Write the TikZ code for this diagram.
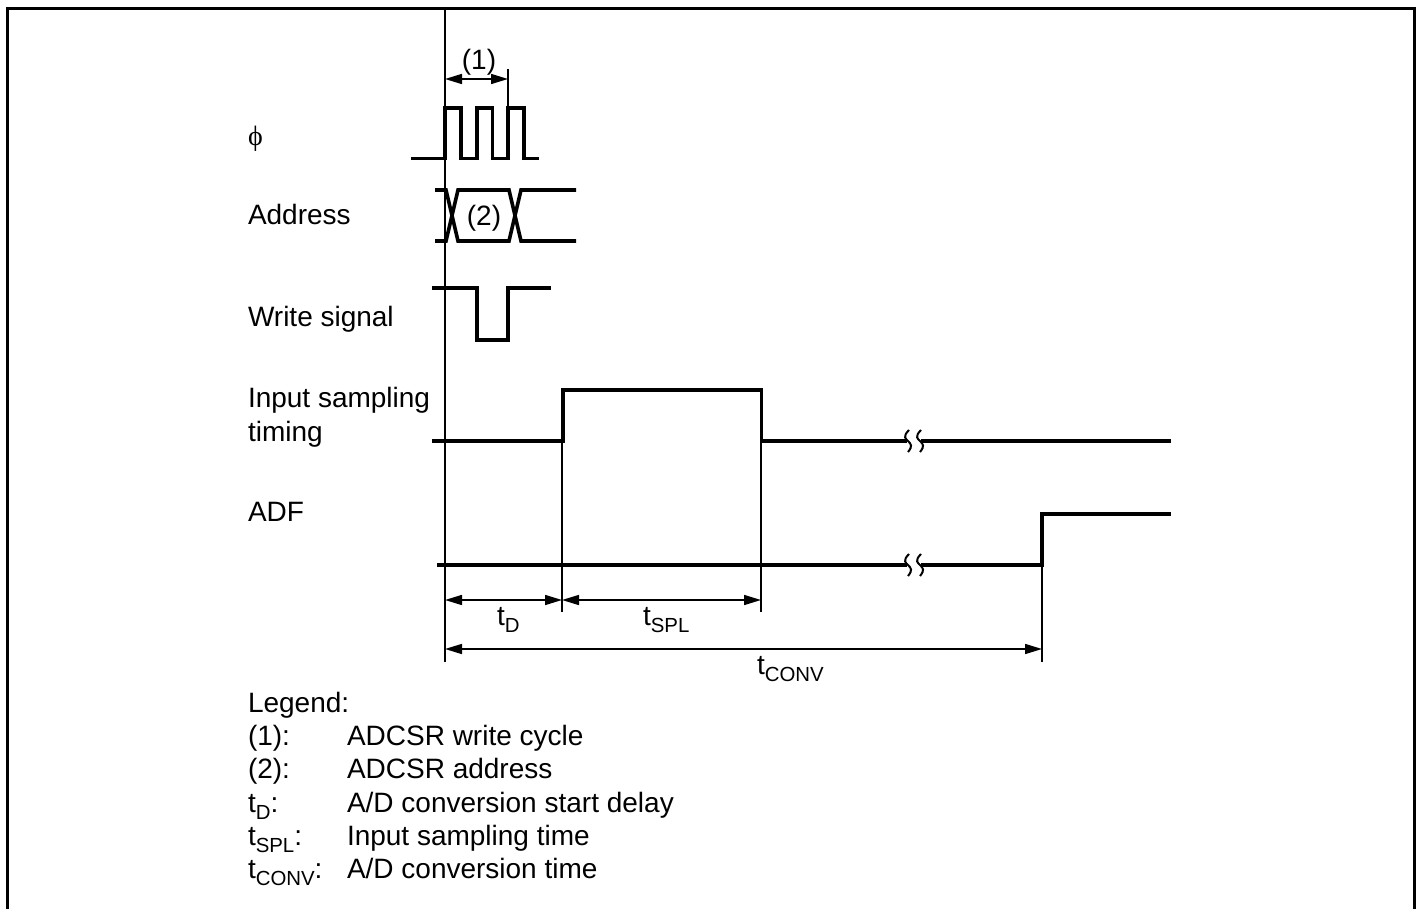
\documentclass[tikz,border=0pt]{standalone}
\usepackage{fontspec}
\setmainfont{Liberation Sans}
\newfontfamily\symfont{Liberation Serif}
\usetikzlibrary{arrows.meta}
\newcommand{\subs}[1]{\raisebox{-5.25pt}{\fontsize{15.3pt}{15.3pt}\selectfont #1}}
\tikzset{
  x=0.75pt,y=-0.75pt,
  frame/.style={line width=2.4pt,line cap=butt,line join=miter},
  wave/.style={line width=2.7pt,line cap=butt,line join=miter},
  thin line/.style={line width=1.15pt},
  dim/.style={line width=1.15pt,{Triangle[length=12.75pt,width=7.5pt]}-{Triangle[length=12.75pt,width=7.5pt]}},
  brk/.style={line width=1.5pt},
  txt/.style={anchor=base west,inner sep=0pt,outer sep=0pt,font=\fontsize{21pt}{24pt}\selectfont},
  ctr/.style={anchor=base,inner sep=0pt,outer sep=0pt,font=\fontsize{21pt}{24pt}\selectfont},
}
\begin{document}
\begin{tikzpicture}
\useasboundingbox (0,0) rectangle (1417,909);
\fill[white] (0,0) rectangle (1417,909);
% frame
\draw[frame] (7.5,909) -- (7.5,8.5) -- (1414.5,8.5) -- (1414.5,909);

% named reference coordinates
\coordinate (a0) at (445,8);
\coordinate (a1) at (445,662);
\coordinate (c1) at (508,69);
\coordinate (c2) at (508,108);
\coordinate (s1) at (562,441);
\coordinate (s1b) at (562,612);
\coordinate (s2) at (761,441);
\coordinate (s2b) at (761,612);
\coordinate (e1) at (1042,565);
\coordinate (e1b) at (1042,662);
\coordinate (d1a) at (445,79);
\coordinate (d1b) at (508,79);
\coordinate (d2a) at (445,600);
\coordinate (d2b) at (562,600);
\coordinate (d2c) at (761,600);
\coordinate (d3a) at (445,649);
\coordinate (d3b) at (1042,649);

% vertical reference lines
\draw[thin line] (a0) -- (a1);
\draw[thin line] (c1) -- (c2);
\draw[thin line] (s1) -- (s1b);
\draw[thin line] (s2) -- (s2b);
\draw[thin line] (e1) -- (e1b);

% clock
\draw[wave] (411,158.5) -- (445,158.5) -- (445,108) -- (461,108) -- (461,158.5) -- (477,158.5) -- (477,108) -- (492.5,108) -- (492.5,158.5) -- (508,158.5) -- (508,108) -- (524,108) -- (524,158.5) -- (539,158.5);

% address
\draw[wave] (435,190) -- (446,190) -- (458,241) -- (509,241) -- (521,190) -- (576,190);
\draw[wave] (435,241) -- (446,241) -- (458,190) -- (509,190) -- (521,241) -- (576,241);

% write
\draw[wave] (432,288) -- (477,288) -- (477,340) -- (508,340) -- (508,288) -- (551,288);

% input sampling
\draw[wave] (432,441) -- (563,441) -- (563,390) -- (761.5,390) -- (761.5,441) -- (907,441);
\draw[wave] (921,441) -- (1171,441);
\draw[brk] (909,430) .. controls (902,437) and (906,439) .. (908,441) .. controls (911,444) and (913,446) .. (908,452);
\draw[brk] (921,430) .. controls (914,437) and (918,439) .. (920,441) .. controls (923,444) and (925,446) .. (920,452);

% ADF
\draw[wave] (437,565) -- (907,565);
\draw[wave] (921,565) -- (1042,565) -- (1042,514) -- (1171,514);
\draw[brk] (909,554) .. controls (902,561) and (906,563) .. (908,565) .. controls (911,568) and (913,570) .. (908,576);
\draw[brk] (921,554) .. controls (914,561) and (918,563) .. (920,565) .. controls (923,568) and (925,570) .. (920,576);

% dimensions
\draw[dim] (d1a) -- (d1b);
\draw[dim] (d2a) -- (d2b);
\draw[dim] (d2b) -- (d2c);
\draw[dim] (d3a) -- (d3b);

% dimension labels
\node[ctr] (l1) at (479,70) {(1)};
\node[ctr] (l2) at (484,226) {(2)};
\node[txt] (ltd) at (497,625) {t\subs{D}};
\node[txt] (ltspl) at (643,625) {t\subs{SPL}};
\node[txt] (ltconv) at (757,674) {t\subs{CONV}};

% signal names
\node[txt] (nphi) at (248,146) {\symfont\fontsize{21pt}{21pt}\selectfont ϕ};
\node[txt] (naddr) at (248,225) {Address};
\node[txt] (nwrite) at (248,326) {Write signal};
\node[txt] (ninput) at (248,407) {Input sampling};
\node[txt] (ntiming) at (248,441) {timing};
\node[txt] (nadf) at (248,521) {ADF};

% legend
\node[txt] (lg) at (248,712) {Legend:};
\node[txt] (lg1) at (248,745) {(1):};
\node[txt] (lg1t) at (347,745) {ADCSR write cycle};
\node[txt] (lg2) at (248,778) {(2):};
\node[txt] (lg2t) at (347,778) {ADCSR address};
\node[txt] (lg3) at (248,812) {t\subs{D}:};
\node[txt] (lg3t) at (347,812) {A/D conversion start delay};
\node[txt] (lg4) at (248,845) {t\subs{SPL}:};
\node[txt] (lg4t) at (347,845) {Input sampling time};
\node[txt] (lg5) at (248,878) {t\subs{CONV}:};
\node[txt] (lg5t) at (347,878) {A/D conversion time};
\end{tikzpicture}
\end{document}
